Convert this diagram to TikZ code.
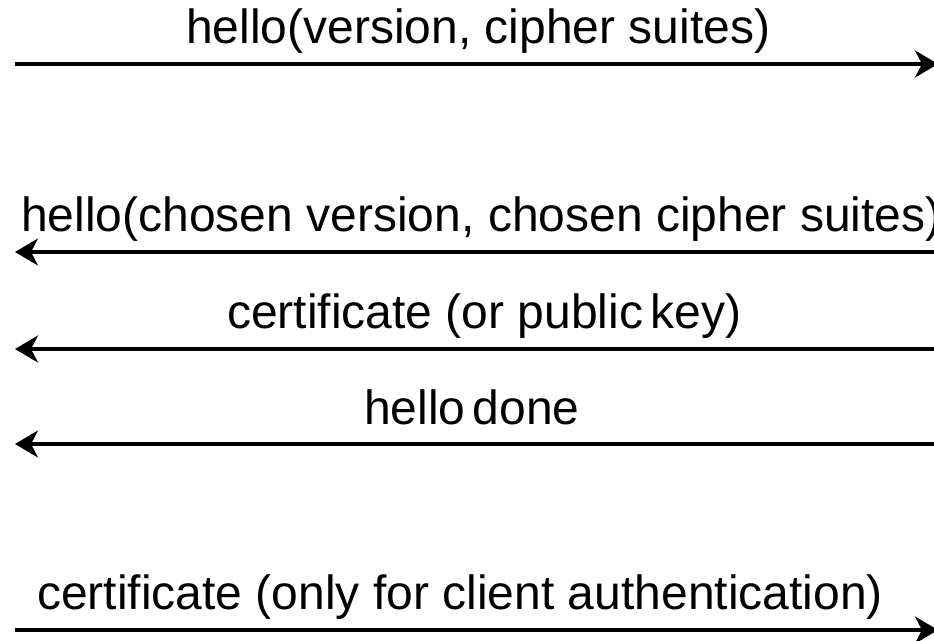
\documentclass[tikz,border=0pt]{standalone}
\usepackage{fontspec}
\setmainfont{Liberation Sans}
\usetikzlibrary{arrows.meta}
\begin{document}
\begin{tikzpicture}[x=1pt,y=-1pt,
  msg/.style={line width=3.6pt,-{Stealth[length=23pt,width=27pt,inset=7pt]}},
  lbl/.style={anchor=base west,inner sep=0pt,font=\fontsize{48}{58}\selectfont}]
  \useasboundingbox (0,0) rectangle (934,640);
  % client side (left) and server side (right) end points of each message
  \coordinate (c1) at (15,64);   \coordinate (s1) at (938,64);
  \coordinate (c2) at (15,252);  \coordinate (s2) at (940,252);
  \coordinate (c3) at (15,349);  \coordinate (s3) at (940,349);
  \coordinate (c4) at (15,444);  \coordinate (s4) at (940,444);
  \coordinate (c5) at (15,630);  \coordinate (s5) at (938,630);
  % messages
  \draw[msg] (c1) -- (s1);
  \draw[msg] (s2) -- (c2);
  \draw[msg] (s3) -- (c3);
  \draw[msg] (s4) -- (c4);
  \draw[msg] (c5) -- (s5);
  % labels
  \node[lbl] (t1) at (186,43)  {hello(version, cipher suites)};
  \node[lbl] (t2) at (21,231)  {hello(chosen version, chosen cipher suites)};
  \node[lbl] (t3) at (227,328) {certificate (or public\hspace{0.15em}key)};
  \node[lbl] (t4) at (364,424) {hello\hspace{0.15em}done};
  \node[lbl] (t5) at (37,609)  {certificate (only for client authentication)};
\end{tikzpicture}
\end{document}
